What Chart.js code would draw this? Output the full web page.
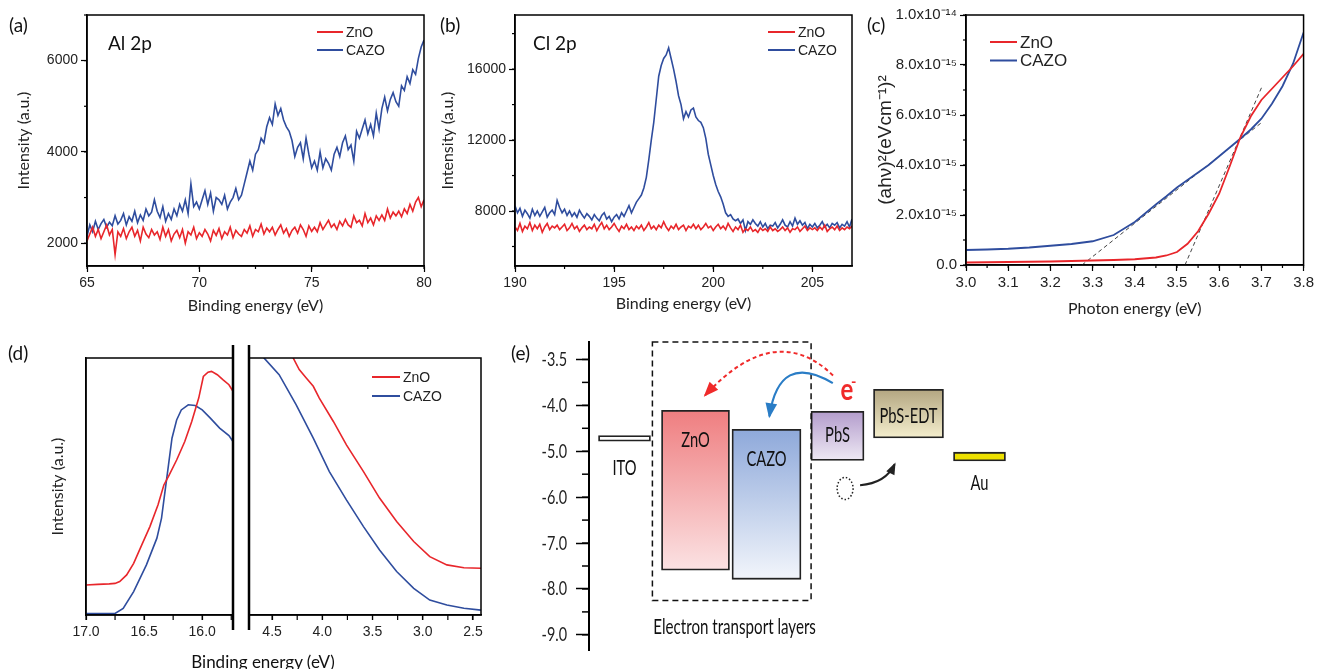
<!DOCTYPE html>
<html>
<head>
<meta charset="utf-8">
<title>ZnO / CAZO characterisation</title>
<script src="https://cdn.jsdelivr.net/npm/chart.js@4.4.1/dist/chart.umd.min.js"></script>
<style>
  html, body { margin: 0; padding: 0; background: #fff; }
  #fig { position: relative; width: 1317px; height: 669px; overflow: hidden; background: #fff; }
  #fig canvas { position: absolute; }
  .tag { position: absolute; font: 19px Lato, "Open Sans", sans-serif; color: #111; line-height: 22px; white-space: nowrap; }
</style>
</head>
<body>
<div id="fig">
  <canvas id="chartA" width="440" height="320" style="left:0;top:0"></canvas>
  <canvas id="chartB" width="440" height="320" style="left:430px;top:0"></canvas>
  <canvas id="chartC" width="457" height="320" style="left:860px;top:0"></canvas>
  <canvas id="chartD1" width="240" height="339" style="left:0;top:330px"></canvas>
  <canvas id="chartD2" width="250" height="339" style="left:240px;top:330px"></canvas>
  <canvas id="chartE" width="817" height="339" style="left:500px;top:330px"></canvas>

  <div class="tag" style="left:9px;top:14px">(a)</div>
  <div class="tag" style="left:440px;top:14px">(b)</div>
  <div class="tag" style="left:867px;top:14px">(c)</div>
  <div class="tag" style="left:8px;top:342px">(d)</div>
  <div class="tag" style="left:511px;top:342px">(e)</div>
  <div class="tag" style="left:108px;top:32px">Al 2p</div>
  <div class="tag" style="left:533px;top:32px">Cl 2p</div>
  <div class="tag" style="left:263px;top:651px;font-size:17px;transform:translateX(-50%)">Binding energy (eV)</div>
</div>

<script>
// ---------- data ----------

// (a) Al 2p core level, one reading every 0.125 eV starting at 65 eV
const alStart = 65, alStep = 0.125;
const alZnO = [2050,
  2200, 2350, 2150, 2300, 2100, 2250, 2400, 2180,
  2300, 1750, 2250, 2150, 2320, 2100, 2250, 2350,
  2150, 2280, 2050, 2350, 2200, 2120, 2300, 2180,
  2250, 2080, 2350, 2150, 2300, 2050, 2200, 2280,
  2120, 2300, 2000, 2250, 2180, 2350, 2100, 2230,
  2150, 2300, 2200, 2050, 2280, 2170, 2320, 2100,
  2250, 2180, 2350, 2120, 2280, 2200, 2150, 2300,
  2220, 2380, 2150, 2300, 2250, 2420, 2200, 2330,
  2250, 2350, 2180, 2300, 2400, 2220, 2320, 2150,
  2280, 2350, 2220, 2400, 2300, 2150, 2380, 2260,
  2350, 2250, 2450, 2300, 2400, 2500, 2350, 2420,
  2300, 2480, 2380, 2520, 2400, 2350, 2600, 2450,
  2500, 2380, 2650, 2450, 2550, 2400, 2600, 2500,
  2620, 2500, 2750, 2550, 2680, 2600, 2700, 2580,
  2750, 2650, 2850, 2700, 2900, 3000, 2800, 2950];
const alCAZO = [2150,
  2400, 2250, 2480, 2300, 2430, 2520, 2350, 2460,
  2380, 2600, 2420, 2500, 2650, 2400, 2580, 2480,
  2700, 2450, 2620, 2500, 2750, 2600, 2680, 2950,
  2700, 2560, 2800, 2480, 2650, 2520, 2750, 2600,
  2850, 2700, 2950, 2650, 3300, 2800, 2900, 2750,
  2950, 3150, 2850, 3100, 2700, 3000, 2950, 2850,
  3050, 2750, 2900, 3000, 3200, 2950, 3050, 3300,
  3550, 3800, 3600, 3950, 4050, 4300, 4200, 4550,
  4750, 4600, 5050, 4800, 4950, 4700, 4550, 4450,
  4250, 3900, 4100, 4200, 3850, 4300, 3950, 3650,
  3800, 3600, 4000, 3650, 3850, 3750, 3600, 3950,
  4100, 3900, 4200, 4350, 4050, 4150, 3800, 4450,
  4300, 4500, 4700, 4400, 4600, 4350, 4850, 4500,
  4950, 5200, 4900, 5150, 5300, 5100, 5000, 5450,
  5350, 5650, 5500, 5800, 5700, 6050, 6300, 6450];
const alTicks = [2000, 4000, 6000];

// (b) Cl 2p core level, one reading every 0.125 eV starting at 190 eV
const clStart = 190, clStep = 0.125;
const clZnO = [7100,
  6900, 7300, 6850, 7150, 7000, 7350, 6900, 7200,
  7000, 7250, 6800, 7100, 7300, 6950, 7150, 7050,
  7200, 6950, 7100, 7250, 6900, 7050, 7300, 7000,
  7150, 6850, 7050, 7200, 6950, 7100, 7000, 7250,
  6900, 7150, 7350, 7000, 7200, 6950, 7100, 7300,
  7050, 6850, 7150, 7000, 7250, 6950, 7100, 6900,
  7150, 7000, 7200, 6900, 7100, 7350, 7000, 7150,
  6950, 7200, 7050, 7400, 7100, 6900, 7150, 7000,
  7250, 6950, 7100, 7200, 6900, 7150, 7050, 7250,
  7000, 7200, 6950, 7100, 7300, 7050, 7150, 6900,
  7100, 7250, 7000, 7150, 6950, 7300, 7050, 6850,
  7100, 6950, 7200, 6800, 7000, 6900, 7100, 6850,
  6950, 6800, 7050, 6900, 7000, 6850, 7100, 6900,
  7000, 6850, 6950, 7100, 6900, 7050, 6800, 7000,
  6950, 7100, 6850, 7000, 7150, 6900, 7050, 6950,
  7050, 6900, 7100, 6950, 7200, 6850, 7000, 7100,
  6950, 7150, 6900, 7050, 6950, 7100, 7000, 7150];
const clCAZO = [8300,
  7900, 8150, 7700, 8050, 7850, 7600, 8100, 7750,
  8000, 7700, 7950, 8200, 7650, 7900, 8050, 7800,
  8600, 8200, 7900, 8100, 7750, 8000, 7700, 7900,
  7650, 8050, 7800, 7600, 7850, 7700, 7500, 7800,
  7600, 7450, 7750, 7900, 7550, 7700, 7400, 7650,
  7800, 7550, 7900, 7700, 8000, 8300, 7900, 8200,
  8500, 8700, 8900, 9300, 9900, 10900, 12000, 13000,
  14300, 15600, 16200, 16600, 16800, 17200, 16600, 16000,
  15300, 14500, 14000, 13200, 13600, 13300, 13700, 13800,
  13300, 13100, 13000, 12700, 12100, 11200, 10600, 10000,
  9500, 9100, 8800, 8400, 7900, 7700, 7800, 7550,
  7450, 7550, 7300, 7500, 6900, 7400, 7250, 7500,
  7300, 7150, 7400, 7100, 7300, 7000, 7200, 7150,
  7350, 7050, 7250, 7500, 7200, 7100, 7400, 7150,
  7600, 7250, 7450, 7200, 7350, 7000, 7250, 7100,
  7300, 7050, 7200, 7400, 7100, 7250, 7050, 7300,
  7200, 7350, 7050, 7250, 7150, 7400, 7100, 7550];
const clTicks = [8000, 12000, 16000];

// (c) Tauc plot, (ahv)^2 in units of 1e-15
const taucEnergy = [3.0, 3.05, 3.1, 3.15, 3.2, 3.25, 3.3, 3.35, 3.4, 3.45, 3.475, 3.5,
  3.525, 3.55, 3.575, 3.6, 3.625, 3.65, 3.675, 3.7, 3.725, 3.75, 3.775, 3.8];
const taucZnO = [0.10, 0.11, 0.12, 0.13, 0.14, 0.16, 0.18, 0.20, 0.23, 0.30, 0.38, 0.52,
  0.85, 1.35, 2.05, 2.85, 3.95, 5.10, 5.95, 6.60, 7.05, 7.50, 7.95, 8.45];
const taucCAZO = [0.60, 0.62, 0.65, 0.70, 0.77, 0.84, 0.95, 1.20, 1.72, 2.42, 2.75, 3.10,
  3.40, 3.70, 4.00, 4.35, 4.70, 5.05, 5.42, 5.85, 6.45, 7.15, 8.05, 9.30];
const fitEnergyZnO = [3.519, 3.703], fitZnO = [0, 7.2];
const fitEnergyCAZO = [3.275, 3.703], fitCAZO = [0, 5.73];
const taucTicks = [0, 2, 4, 6, 8, 10];
const taucTickLabels = ['0.0', '2.0x10⁻¹⁵', '4.0x10⁻¹⁵', '6.0x10⁻¹⁵', '8.0x10⁻¹⁵', '1.0x10⁻¹⁴'];

// (d) UPS, secondary cut-off (left) and valence edge (right), arbitrary units 0-100
const cutoffEnergyZnO = [17.0, 16.9, 16.8, 16.75, 16.71, 16.65, 16.59, 16.52, 16.45, 16.38, 16.33, 16.29,
  16.22, 16.15, 16.09, 16.03, 15.99, 15.95, 15.92, 15.87, 15.82, 15.77, 15.735];
const cutoffZnO = [11.7, 11.9, 12.1, 12.3, 13.0, 15.6, 20.1, 27.3, 34.4, 42.9, 50.6, 53.9,
  60.3, 67.5, 75.3, 84.4, 92.8, 94.5, 94.8, 93.5, 91.5, 89.6, 87.0];
const cutoffEnergyCAZO = [17.0, 16.75, 16.68, 16.59, 16.48, 16.39, 16.35, 16.32, 16.29, 16.26, 16.22,
  16.18, 16.12, 16.06, 16.0, 15.93, 15.85, 15.77, 15.735];
const cutoffCAZO = [0.6, 0.6, 2.6, 9.1, 19.5, 29.9, 37.7, 48.1, 58.4, 68.8, 75.9,
  79.8, 81.8, 81.5, 79.8, 76.6, 72.7, 69.8, 67.5];
const edgeEnergyZnO = [4.33, 4.29, 4.23, 4.16, 4.09, 4.03, 3.89, 3.76, 3.59, 3.43, 3.26, 3.09, 2.93, 2.76, 2.59, 2.42];
const edgeZnO = [104, 100, 95.5, 92.2, 89.0, 84.4, 75.3, 66.2, 55.8, 45.5, 36.4, 28.6, 22.7, 19.5, 18.4, 18.2];
const edgeEnergyCAZO = [4.62, 4.58, 4.43, 4.26, 4.09, 3.93, 3.76, 3.59, 3.43, 3.26, 3.09, 2.93, 2.76, 2.59, 2.42];
const edgeCAZO = [105, 100, 93.5, 81.8, 68.8, 55.8, 44.8, 34.4, 25.3, 16.9, 10.4, 5.8, 3.9, 2.6, 1.9];

// (e) energy levels (eV)
const levelNames = ['ITO', 'ZnO', 'CAZO', 'PbS', 'PbS-EDT', 'Au'];
const levelUpper = [-4.66, -4.11, -4.52, -4.13, -3.65, -5.02];
const levelLower = [-4.78, -7.59, -7.79, -5.20, -4.71, -5.21];
const energyTicks = [-3, -4, -5, -6, -7, -8, -9];
const energyTickLabels = ['-3.5', '-4.0', '-5.0', '-6.0', '-7.0', '-8.0', '-9.0'];

// ---------- styles ----------
const RED = '#e8262b', BLUE = '#2f4d9e';
const LIB = '"Liberation Sans", Arial, sans-serif';
const LATO = 'Lato, "Open Sans", sans-serif';
const levelFill = [['#ffffff', '#ffffff'], ['#ef7e80', '#fbe2e3'], ['#8ea9da', '#f2f5fb'],
  ['#b39ccc', '#eee9f4'], ['#b3a681', '#f4eecd'], ['#ede000', '#ede000']];
const levelWidth = [52, 68, 69, 53, 70, 52];
const levelTextBelow = [true, false, false, false, false, true];
const levelTextDy = [27, 30, 30, 24, 27, 22];

Chart.defaults.animation = false;
Chart.defaults.responsive = false;
Chart.defaults.devicePixelRatio = 1;
Chart.defaults.plugins.legend.display = false;
Chart.defaults.plugins.tooltip.enabled = false;
Chart.defaults.elements.point.radius = 0;
Chart.defaults.elements.line.tension = 0;
Chart.defaults.color = '#222';

const series = (start, step, ys) => ys.map((y, i) => ({ x: start + i * step, y }));
const pairs = (xs, ys) => ys.map((y, i) => ({ x: xs[i], y }));

function axis(o) {
  return {
    type: 'linear', min: o.min, max: o.max, reverse: !!o.reverse, display: o.display !== false,
    afterFit: s => { if (o.size !== undefined) { if (s.isHorizontal()) s.height = o.size; else s.width = o.size; } },
    afterBuildTicks: s => { if (o.values) s.ticks = o.values.map(v => ({ value: v })); },
    ticks: { display: o.labels !== false, stepSize: o.step, includeBounds: false, autoSkip: false, maxRotation: 0,
      font: { family: LIB, size: o.fontSize || 14 }, color: '#222', padding: o.pad ?? 3, callback: o.fmt },
    grid: { drawOnChartArea: false, drawTicks: o.tick !== 0, tickLength: o.tick ?? 6, tickColor: '#000', tickWidth: 1.2 },
    border: { display: true, color: '#000', width: 1.5 },
    title: o.title ? { display: true, text: o.title, font: o.titleFont || { family: LATO, size: 16 }, color: '#222', padding: o.titlePad } : { display: false }
  };
}

// minor tick marks
Chart.register({
  id: 'minorTicks',
  afterDraw(chart, args, o) {
    if (!o.list) return;
    const ctx = chart.ctx;
    o.list.forEach(m => {
      const s = chart.scales[m.axis];
      ctx.save();
      ctx.strokeStyle = '#000';
      ctx.lineWidth = m.width || 1.2;
      const k0 = Math.ceil(Math.min(s.min, s.max) / m.step - 1e-6);
      const k1 = Math.floor(Math.max(s.min, s.max) / m.step + 1e-6);
      for (let k = k0; k <= k1; k++) {
        const p = s.getPixelForValue(k * m.step);
        ctx.beginPath();
        if (s.isHorizontal()) { ctx.moveTo(p, s.top); ctx.lineTo(p, s.top + m.len); }
        else { ctx.moveTo(s.right, p); ctx.lineTo(s.right - m.len, p); }
        ctx.stroke();
      }
      ctx.restore();
    });
  }
});

// box round the plot area, with the axis-break line for panel (d)
Chart.register({
  id: 'frame',
  afterDraw(chart, args, o) {
    const { ctx, chartArea: a } = chart;
    ctx.save();
    ctx.strokeStyle = '#000';
    ctx.lineWidth = 1.5;
    ctx.strokeRect(a.left, a.top, a.right - a.left, a.bottom - a.top);
    if (o.breakAt) {
      const x = o.breakAt === 'right' ? a.right : a.left;
      ctx.lineWidth = 2.5;
      ctx.beginPath(); ctx.moveTo(x, a.top - 13); ctx.lineTo(x, a.bottom + 15); ctx.stroke();
    }
    ctx.restore();
  }
});

// small line legend inside the plot
Chart.register({
  id: 'lineLegend',
  afterDraw(chart, args, o) {
    if (o.x === undefined) return;
    const ctx = chart.ctx;
    ctx.save();
    ctx.font = o.font;
    ctx.textBaseline = 'middle';
    ctx.fillStyle = '#222';
    chart.data.datasets.filter(d => !d.label.startsWith('_')).forEach((d, i) => {
      const y = o.y + i * o.gap;
      ctx.strokeStyle = d.borderColor;
      ctx.lineWidth = 2;
      ctx.beginPath(); ctx.moveTo(o.x, y); ctx.lineTo(o.x + o.len, y); ctx.stroke();
      ctx.fillText(d.label, o.x + o.len + 3, y + 1);
    });
    ctx.restore();
  }
});

// ---------- (a) ----------
new Chart(document.getElementById('chartA'), {
  type: 'line',
  data: { datasets: [
    { label: 'ZnO', data: series(alStart, alStep, alZnO), borderColor: RED, borderWidth: 1.6 },
    { label: 'CAZO', data: series(alStart, alStep, alCAZO), borderColor: BLUE, borderWidth: 1.6 }
  ] },
  options: {
    layout: { padding: { top: 15, right: 16, left: 0, bottom: 0 } },
    scales: {
      x: axis({ min: 65, max: 80, step: 5, size: 54, fmt: v => v.toFixed(0), title: 'Binding energy (eV)', titlePad: { top: 0, bottom: 5 } }),
      y: axis({ min: 1500, max: 7000, values: alTicks, size: 87, fmt: v => v.toFixed(0), title: 'Intensity (a.u.)', titlePad: { top: 14, bottom: 0 } })
    },
    plugins: {
      minorTicks: { list: [{ axis: 'x', step: 2.5, len: 3 }, { axis: 'y', step: 1000, len: 3 }] },
      lineLegend: { x: 317, y: 32, gap: 18, len: 26, font: '14px ' + LIB }
    }
  }
});

// ---------- (b) ----------
new Chart(document.getElementById('chartB'), {
  type: 'line',
  data: { datasets: [
    { label: 'ZnO', data: series(clStart, clStep, clZnO), borderColor: RED, borderWidth: 1.6 },
    { label: 'CAZO', data: series(clStart, clStep, clCAZO), borderColor: BLUE, borderWidth: 1.6 }
  ] },
  options: {
    layout: { padding: { top: 15, right: 18, left: 0, bottom: 0 } },
    scales: {
      x: axis({ min: 190, max: 207, step: 5, size: 54, fmt: v => v.toFixed(0), title: 'Binding energy (eV)', titlePad: { top: 0, bottom: 7 } }),
      y: axis({ min: 4900, max: 19050, values: clTicks, size: 85, fmt: v => v.toFixed(0), title: 'Intensity (a.u.)', titlePad: { top: 8, bottom: 0 } })
    },
    plugins: {
      minorTicks: { list: [{ axis: 'x', step: 2.5, len: 3 }, { axis: 'y', step: 2000, len: 3 }] },
      lineLegend: { x: 338, y: 32, gap: 18, len: 27, font: '14px ' + LIB }
    }
  }
});

// ---------- (c) ----------
new Chart(document.getElementById('chartC'), {
  type: 'line',
  data: { datasets: [
    { label: 'ZnO', data: pairs(taucEnergy, taucZnO), borderColor: RED, borderWidth: 1.8 },
    { label: 'CAZO', data: pairs(taucEnergy, taucCAZO), borderColor: BLUE, borderWidth: 1.8 },
    { label: '_fitZnO', data: pairs(fitEnergyZnO, fitZnO), borderColor: '#444', borderWidth: 1, borderDash: [4, 3] },
    { label: '_fitCAZO', data: pairs(fitEnergyCAZO, fitCAZO), borderColor: '#444', borderWidth: 1, borderDash: [4, 3] }
  ] },
  options: {
    layout: { padding: { top: 15, right: 11, left: 0, bottom: 0 } },
    scales: {
      x: axis({ min: 3.0, max: 3.8, step: 0.1, size: 55, fontSize: 15, fmt: v => v.toFixed(1), title: 'Photon energy (eV)', titlePad: { top: 0, bottom: 2 } }),
      y: axis({ min: 0, max: 10, values: taucTicks, size: 106, fontSize: 15, fmt: (v, i) => taucTickLabels[i],
        title: '(ahν)²(eVcm⁻¹)²', titleFont: { family: LIB, size: 19 }, titlePad: { top: 14, bottom: 0 } })
    },
    plugins: {
      minorTicks: { list: [{ axis: 'x', step: 0.05, len: 3 }, { axis: 'y', step: 1, len: 3 }] },
      lineLegend: { x: 130, y: 42, gap: 18.5, len: 27, font: '17px ' + LIB }
    }
  }
});

// ---------- (d) ----------
new Chart(document.getElementById('chartD1'), {
  type: 'line',
  data: { datasets: [
    { label: 'ZnO', data: pairs(cutoffEnergyZnO, cutoffZnO), borderColor: RED, borderWidth: 1.6 },
    { label: 'CAZO', data: pairs(cutoffEnergyCAZO, cutoffCAZO), borderColor: BLUE, borderWidth: 1.6 }
  ] },
  options: {
    layout: { padding: { top: 28, right: 7, left: 0, bottom: 0 } },
    scales: {
      x: axis({ min: 15.735, max: 17.0, reverse: true, step: 0.5, size: 54, tick: 5, pad: 4, fmt: v => v.toFixed(1) }),
      y: axis({ min: 0, max: 100, size: 86, labels: false, tick: 0, title: 'Intensity (a.u.)', titlePad: { top: 48, bottom: 0 } })
    },
    plugins: {
      minorTicks: { list: [{ axis: 'x', step: 0.25, len: 5 }] },
      frame: { breakAt: 'right' }
    }
  }
});

new Chart(document.getElementById('chartD2'), {
  type: 'line',
  data: { datasets: [
    { label: 'ZnO', data: pairs(edgeEnergyZnO, edgeZnO), borderColor: RED, borderWidth: 1.6 },
    { label: 'CAZO', data: pairs(edgeEnergyCAZO, edgeCAZO), borderColor: BLUE, borderWidth: 1.6 }
  ] },
  options: {
    layout: { padding: { top: 28, right: 9, left: 9, bottom: 0 } },
    scales: {
      x: axis({ min: 2.42, max: 4.73, reverse: true, step: 0.5, size: 54, tick: 5, pad: 4, fmt: v => v.toFixed(1) }),
      y: axis({ min: 0, max: 100, display: false })
    },
    plugins: {
      minorTicks: { list: [{ axis: 'x', step: 0.25, len: 5 }] },
      frame: { breakAt: 'left' },
      lineLegend: { x: 132, y: 47, gap: 19, len: 28, font: '14px ' + LIB }
    }
  }
});

// ---------- (e) ----------
function squash(ctx, str, x, y, font, color, sx, align) {
  ctx.save();
  ctx.translate(x, y);
  ctx.scale(sx, 1);
  ctx.font = font;
  ctx.fillStyle = color;
  ctx.textAlign = align || 'center';
  ctx.textBaseline = 'middle';
  ctx.fillText(str, 0, 0);
  ctx.restore();
}

function curveArrow(ctx, s, c, e, color, width, dash, head) {
  ctx.save();
  ctx.strokeStyle = color; ctx.fillStyle = color; ctx.lineWidth = width;
  ctx.setLineDash(dash);
  ctx.beginPath(); ctx.moveTo(s[0], s[1]); ctx.quadraticCurveTo(c[0], c[1], e[0], e[1]); ctx.stroke();
  ctx.setLineDash([]);
  const ang = Math.atan2(e[1] - c[1], e[0] - c[0]);
  ctx.translate(e[0], e[1]); ctx.rotate(ang);
  ctx.beginPath(); ctx.moveTo(2, 0); ctx.lineTo(-head, -head * 0.45); ctx.lineTo(-head, head * 0.45); ctx.closePath(); ctx.fill();
  ctx.restore();
}

const bandNotes = {
  id: 'bandNotes',
  afterDraw(chart) {
    const { ctx, scales: { x, y } } = chart;
    const P = (i, v) => [x.getPixelForValue(i), y.getPixelForValue(v)];
    const FONT = '21px ' + LATO;

    // energy tick labels
    y.ticks.forEach(t => {
      const k = energyTicks.indexOf(Math.round(t.value));
      if (k >= 0) squash(ctx, energyTickLabels[k], y.right - 22, y.getPixelForValue(t.value), '20px ' + LATO, '#222', 0.72, 'right');
    });

    // dashed box round the transport layers
    const b0 = P(0.393, y.max), b1 = P(2.628, -8.254);
    ctx.save();
    ctx.strokeStyle = '#111'; ctx.lineWidth = 1.5; ctx.setLineDash([6, 4]);
    ctx.strokeRect(b0[0], b0[1], b1[0] - b0[0], b1[1] - b0[1]);
    ctx.restore();

    // level names
    levelNames.forEach((n, i) => {
      const yy = levelTextBelow[i] ? y.getPixelForValue(levelLower[i]) + levelTextDy[i] : y.getPixelForValue(levelUpper[i]) + levelTextDy[i];
      squash(ctx, n, x.getPixelForValue(i), yy, FONT, '#111', 0.7);
    });
    const t = P(1.551, -8.841);
    squash(ctx, 'Electron transport layers', t[0], t[1], FONT, '#111', 0.72);

    // electron transfer arrows
    curveArrow(ctx, P(2.937, -3.348), P(2.121, -2.13), P(1.135, -3.783), '#f02a2a', 2, [4, 3], 13);
    curveArrow(ctx, P(2.934, -3.515), P(2.177, -2.817), P(2.041, -4.239), '#2a7dc6', 2.2, [], 13);
    const ep = P(3.131, -3.674), mp = P(3.227, -3.478);
    squash(ctx, 'e', ep[0], ep[1], 'bold 30px ' + LATO, '#f02a2a', 0.8);
    squash(ctx, '-', mp[0], mp[1], 'bold 16px ' + LATO, '#f02a2a', 0.9);

    // hole and its arrow
    const h = P(3.107, -5.811);
    ctx.save();
    ctx.strokeStyle = '#222'; ctx.lineWidth = 1.5; ctx.setLineDash([1.5, 2]);
    ctx.beginPath(); ctx.ellipse(h[0], h[1], 8, 11, 0, 0, Math.PI * 2); ctx.stroke();
    ctx.restore();
    curveArrow(ctx, P(3.318, -5.739), P(3.678, -5.696), P(3.805, -5.283), '#222', 2, [], 10);
  }
};

new Chart(document.getElementById('chartE'), {
  type: 'bar',
  data: {
    labels: levelNames,
    datasets: levelNames.map((name, i) => ({
      label: name,
      data: levelNames.map((_, j) => (j === i ? [levelLower[i], levelUpper[i]] : null)),
      barThickness: levelWidth[i],
      borderColor: '#222',
      borderWidth: 1.8,
      borderSkipped: false,
      backgroundColor: c => {
        const sc = c.chart.scales.y;
        if (!sc || !c.chart.chartArea) return levelFill[i][0];
        const g = c.chart.ctx.createLinearGradient(0, sc.getPixelForValue(levelUpper[i]), 0, sc.getPixelForValue(levelLower[i]));
        g.addColorStop(0, levelFill[i][0]);
        g.addColorStop(1, levelFill[i][1]);
        return g;
      }
    }))
  },
  options: {
    grouped: false,
    layout: { padding: { top: 12, right: 302, left: 0, bottom: 19 } },
    scales: {
      x: { type: 'category', display: false },
      y: {
        type: 'linear', min: -9.33, max: -2.62,
        afterFit: s => { s.width = 89; },
        ticks: { display: false, stepSize: 1, includeBounds: false },
        grid: { drawOnChartArea: false, drawTicks: true, tickLength: 13, tickColor: '#000', tickWidth: 1.5 },
        border: { display: true, color: '#000', width: 2 }
      }
    },
    plugins: {
      frame: false,
      minorTicks: { list: [{ axis: 'y', step: 0.5, len: 7, width: 1.5 }] }
    }
  },
  plugins: [bandNotes]
});
</script>
</body>
</html>
